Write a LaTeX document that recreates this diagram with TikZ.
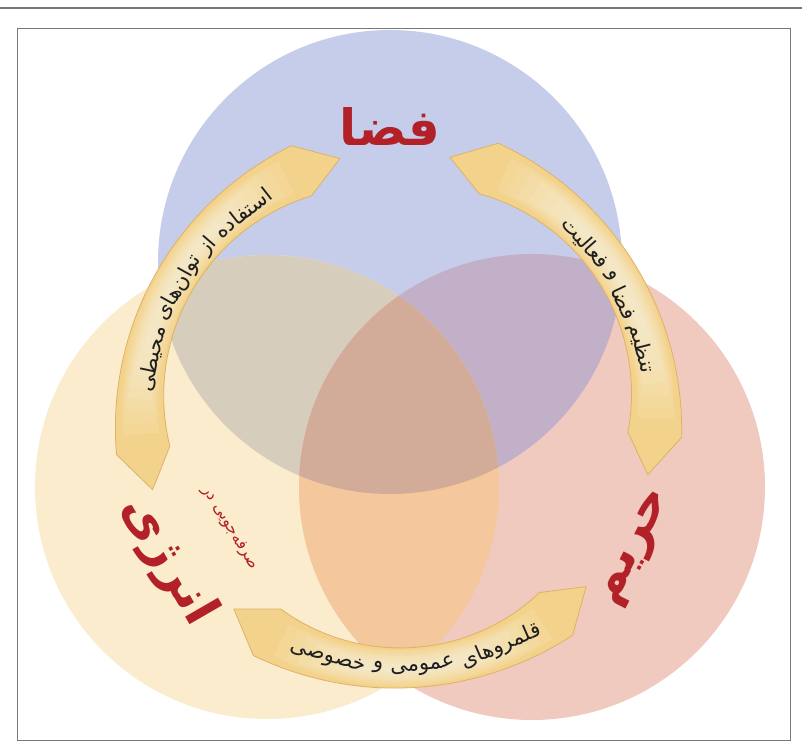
\documentclass[tikz,border=0pt]{standalone}
\usepackage{fontspec}
\newfontfamily\arabicfont[Script=Arabic]{DejaVu Sans}
\TeXXeTstate=1
\usetikzlibrary{positioning}
\definecolor{framegray}{RGB}{120,120,120}
\definecolor{blueset}{RGB}{198,205,234}
\definecolor{yellowset}{RGB}{250,236,205}
\definecolor{redset}{RGB}{240,202,190}
\definecolor{blueyellow}{RGB}{214,205,188}
\definecolor{bluered}{RGB}{194,176,200}
\definecolor{yellowred}{RGB}{244,199,156}
\definecolor{allthree}{RGB}{210,172,152}
\definecolor{bandgold}{RGB}{243,210,140}
\definecolor{bandedge}{RGB}{222,178,100}
\definecolor{titlered}{RGB}{178,32,40}
\definecolor{darktext}{RGB}{30,30,30}

\newcommand{\arcfont}{\arabicfont\fontsize{21}{24}\selectfont}
\newdimen\wordwd
\newsavebox{\wordbox}

% width of a word, kept in a macro (in pt)
\newcommand{\measureword}[2]{%
  \sbox{\wordbox}{\arcfont\beginR#2\endR}%
  \global\wordwd=\wd\wordbox
  \pgfmathsetmacro{\wtmp}{\wordwd}%
  \xdef#1{\wtmp}}

% curved band with a blunt point at both ends, around (hub)
\newcommand{\drawband}[2]{%
  \pgfmathsetmacro{\bm}{(#1+#2)/2}%
  \pgfmathsetmacro{\bh}{(#2-#1)/2-9}%
  \path[band] plot[domain={#1+9}:{#2-9}, samples=40] ({\x}:{258+20+7*((\x-\bm)/\bh)^2})
    -- (#2:258)
    -- plot[domain={#2-9}:{#1+9}, samples=40] ({\x}:{258-20-7*((\x-\bm)/\bh)^2})
    -- (#1:258) -- cycle;
  \foreach \k in {1,...,8}
    \draw[shine, line width={40-4*\k}, opacity=.09] ({#1+10+2.6*\k}:258) arc[start angle={#1+10+2.6*\k}, end angle={#2-10-2.6*\k}, radius=258];}

% words set one after another along an arc
\newcommand{\startarc}[4]{% start angle, direction, radius, extra rotation
  \xdef\curpos{#1}\xdef\arcdir{#2}\xdef\arcrad{#3}\xdef\arcrot{#4}}
\newcommand{\arcword}[3]{% node name, word, its width
  \pgfmathsetmacro{\wmid}{\curpos + \arcdir*#3/\arcrad*57.296/2}%
  \pgfmathsetmacro{\nxt}{\curpos + \arcdir*(#3/\arcrad*57.296 + 1.6)}%
  \xdef\curpos{\nxt}%
  \node[arctext, rotate=\wmid+\arcrot] (#1) at (\wmid:\arcrad) {\beginR#2\endR};}

\begin{document}
\measureword{\wlA}{استفاده}
\measureword{\wlB}{از}
\measureword{\wlC}{توان‌های}
\measureword{\wlD}{محیطی}
\measureword{\wrA}{تنظیم}
\measureword{\wrB}{فضا}
\measureword{\wrC}{و}
\measureword{\wrD}{فعالیت}
\measureword{\wbA}{قلمروهای}
\measureword{\wbB}{عمومی}
\measureword{\wbC}{و}
\measureword{\wbD}{خصوصی}
\begin{tikzpicture}[x=1pt, y=1pt,
    arctext/.style={font=\arcfont, text=darktext, inner sep=0pt},
    title/.style={font=\arabicfont\bfseries\fontsize{50}{60}\selectfont, text=titlered, inner sep=0pt},
    subtitle/.style={font=\arabicfont\fontsize{16}{18}\selectfont, text=titlered, inner sep=0pt},
    band/.style={fill=bandgold, draw=bandedge, line width=0.8pt},
    shine/.style={draw=white, line cap=butt}
  ]
  \useasboundingbox (0,0) rectangle (802,749);

  % frame
  \draw[framegray, line width=1.2pt] (0,741) -- (802,741);
  \draw[framegray, line width=0.8pt] (17,9) rectangle (790,721);

  \coordinate (cB) at (390,487);
  \coordinate (cY) at (267,262);
  \coordinate (cR) at (532,262);
  \coordinate (hub) at (398,339);

  % the three sets
  \begin{scope}
    \clip (17,9) rectangle (790,721);
    \fill[blueset] (cB) circle[radius=232];
    \fill[yellowset] (cY) circle[radius=232];
    \fill[redset] (cR) circle[radius=233];
    \begin{scope}
      \clip (cB) circle[radius=232];
      \fill[blueyellow] (cY) circle[radius=232];
      \fill[bluered] (cR) circle[radius=233];
    \end{scope}
    \begin{scope}
      \clip (cY) circle[radius=232];
      \fill[yellowred] (cR) circle[radius=233];
      \clip (cB) circle[radius=232];
      \fill[allthree] (cR) circle[radius=233];
    \end{scope}
  \end{scope}

  % arrows of the cycle
  \begin{scope}[shift={(hub)}]
    \drawband{103}{198}
    \drawband{-14.5}{78.4}
    \drawband{230.5}{316.8}

    % texts on the arrows
    \startarc{120.5}{1}{251}{-90}
    \arcword{left1}{استفاده}{\wlA}
    \arcword{left2}{از}{\wlB}
    \arcword{left3}{توان‌های}{\wlC}
    \arcword{left4}{محیطی}{\wlD}
    \startarc{8.5}{1}{251}{-90}
    \arcword{right1}{تنظیم}{\wrA}
    \arcword{right2}{فضا}{\wrB}
    \arcword{right3}{و}{\wrC}
    \arcword{right4}{فعالیت}{\wrD}
    \startarc{303}{-1}{258}{90}
    \arcword{bottom1}{قلمروهای}{\wbA}
    \arcword{bottom2}{عمومی}{\wbB}
    \arcword{bottom3}{و}{\wbC}
    \arcword{bottom4}{خصوصی}{\wbD}
  \end{scope}

  % set names
  \node[title] (space) at (390,622) {\beginR فضا\endR};
  \node[title, rotate=-60] (energy) at (168,188) {\beginR انرژی\endR};
  \node[subtitle, rotate=-59] (saving) at (230,221) {\beginR صرفه‌جویی در\endR};
  \node[title, rotate=63] (privacy) at (638,200) {\beginR حریم\endR};
\end{tikzpicture}
\end{document}
